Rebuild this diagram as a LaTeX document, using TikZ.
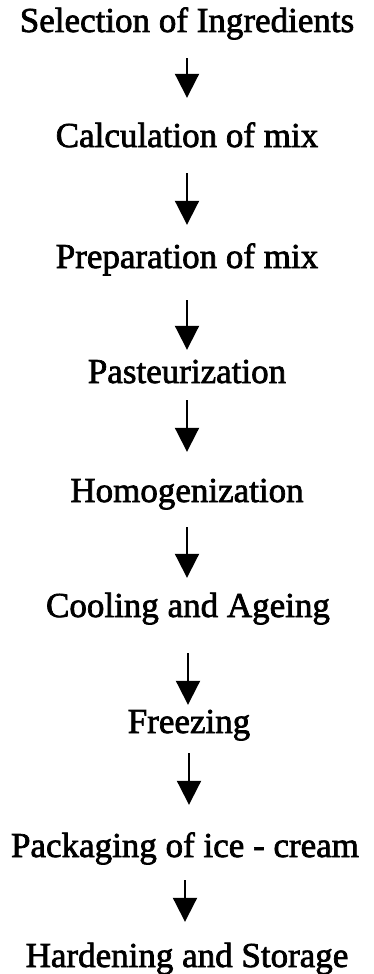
\documentclass[tikz,border=0pt]{standalone}
\usepackage{fontspec}
\setmainfont{Liberation Serif}[FakeBold=2]
\usetikzlibrary{arrows.meta}
\tikzset{
  stage/.style={anchor=base, inner sep=0pt, text height=23pt, text depth=0pt,
    font=\fontsize{35}{40}\selectfont},
  flow/.style={line width=2pt, -{Triangle[width=24pt,length=24pt]}},
}
\begin{document}
\begin{tikzpicture}[x=1pt,y=-1pt]
\useasboundingbox (0,0) rectangle (373,974);
\node[stage] (s1) at (187,32)  {Selection of Ingredients};
\node[stage] (s2) at (187,147) {Calculation of mix};
\node[stage] (s3) at (187,268) {Preparation of mix};
\node[stage] (s4) at (187,383) {Pasteurization};
\node[stage] (s5) at (187,502) {Homogenization};
\node[stage] (s6) at (188,617) {Cooling and Ageing};
\node[stage] (s7) at (189,733) {Freezing};
\node[stage] (s8) at (185,857) {Packaging of ice - cream};
\node[stage] (s9) at (187,967) {Hardening and Storage};
\draw[flow, shorten <=26pt, shorten >=26pt] (s1.south) -- (s1.south |- s2.north);
\draw[flow, shorten <=26pt, shorten >=20pt] (s2.south) -- (s2.south |- s3.north);
\draw[flow, shorten <=32pt, shorten >=10pt] (s3.south) -- (s3.south |- s4.north);
\draw[flow, shorten <=17pt, shorten >=27pt] (s4.south) -- (s4.south |- s5.north);
\draw[flow, shorten <=25pt, shorten >=16pt] (s5.south) -- (s5.south |- s6.north);
\draw[flow, shorten <=36pt, shorten >=5pt]  (s6.south) -- (s6.south |- s7.north);
\draw[flow, shorten <=20pt, shorten >=29pt] (s7.south) -- (s7.south |- s8.north);
\draw[flow, shorten <=23pt, shorten >=22pt] (s8.south) -- (s8.south |- s9.north);
\end{tikzpicture}
\end{document}
